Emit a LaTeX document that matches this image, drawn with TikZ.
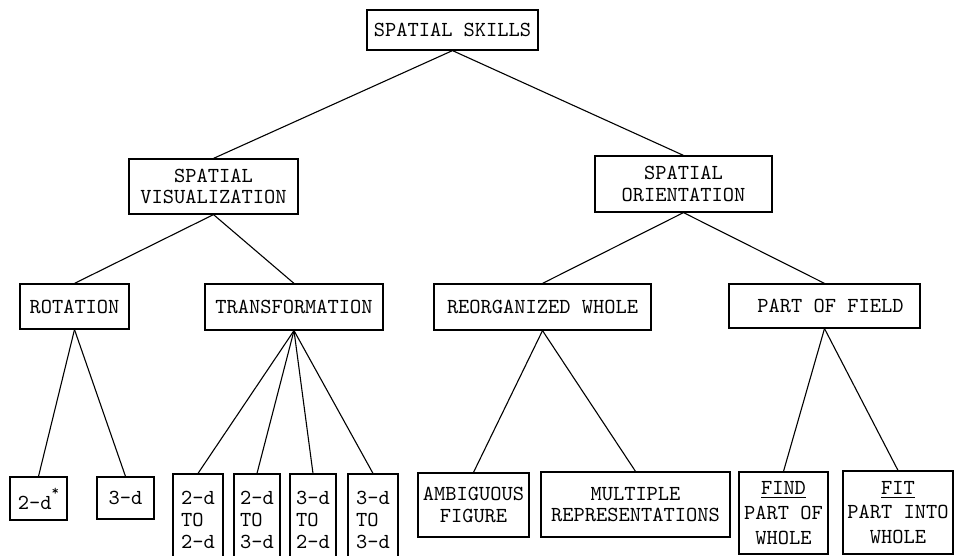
\documentclass[tikz,border=0pt]{standalone}
\usepackage{tikz}
\usepackage{xcolor}

\tikzset{
  box/.style={draw, line width=0.6pt, inner sep=0pt, align=center,
    font=\ttfamily\fontsize{10.7}{10.9}\selectfont},
  boxsize/.style 2 args={minimum width=#1*0.5pt, minimum height=#2*0.5pt},
  link/.style={line width=0.55pt}
}

\begin{document}
\begin{tikzpicture}[x=0.5pt,y=-0.5pt]
        \useasboundingbox (0,0) rectangle (954,556);
        \fill[white] (0,0) rectangle (954,556);
        \clip (0,0) rectangle (954,556);
        % top levels
        \node[box, boxsize={171}{40}] (skills) at (452.5,30) {SPATIAL SKILLS};
        \node[box, boxsize={169}{55}] (visual) at (213.5,186.5) {SPATIAL\\VISUALIZATION};
        \node[box, boxsize={177}{56}] (orient) at (683.5,184) {SPATIAL\\ORIENTATION};
        \node[box, boxsize={109}{45}] (rotation) at (74.5,306.5) {ROTATION};
        \node[box, boxsize={178}{46}] (transform) at (294,307) {TRANSFORMATION};
        \node[box, boxsize={217}{46}] (reorg) at (542.5,307) {REORGANIZED WHOLE};
        \node[box, boxsize={191}{44}] (field) at (824.5,306) {\hspace{6pt}PART OF FIELD};
        % bottom level
        \node[box, boxsize={57}{43}] (rottwo) at (38.5,498.5) {2-d\raisebox{1.5ex}{\scriptsize *}};
        \node[box, boxsize={57}{42}] (rotthree) at (125.5,498) {3-d};
        \node[box, boxsize={50}{92}, align=left] (tftt) at (198,520) {2-d\\TO\\2-d};
        \node[box, boxsize={46}{92}, align=left] (tfth) at (257,520) {2-d\\TO\\3-d};
        \node[box, boxsize={46}{92}, align=left] (thtt) at (313,520) {3-d\\TO\\2-d};
        \node[box, boxsize={50}{92}, align=left] (thth) at (373,520) {3-d\\TO\\3-d};
        \node[box, boxsize={111}{64}] (ambig) at (473.5,505) {AMBIGUOUS\\FIGURE};
        \node[box, boxsize={189}{65}] (multi) at (635.5,504.5) {MULTIPLE\\REPRESENTATIONS};
        \node[box, boxsize={89}{82}, font=\ttfamily\fontsize{10.7}{12.4}\selectfont] (find) at (783.5,513) {\underline{FIND}\\PART OF\\WHOLE};
        \node[box, boxsize={110}{83}, font=\ttfamily\fontsize{10.7}{12.4}\selectfont] (fit) at (898,512.5) {\underline{FIT}\\PART INTO\\WHOLE};
        % connectors
        \draw[link] (skills.south) -- (visual.north);
        \draw[link] (skills.south) -- (orient.north);
        \draw[link] (visual.south) -- (rotation.north);
        \draw[link] (visual.south) -- (transform.north);
        \draw[link] (orient.south) -- (reorg.north);
        \draw[link] (orient.south) -- (field.north);
        \draw[link] (rotation.south) -- (rottwo.north);
        \draw[link] (rotation.south) -- (rotthree.north);
        \foreach \leaf in {tftt,tfth,thtt,thth}
          \draw[link] (transform.south) -- (\leaf.north);
        \draw[link] (reorg.south) -- (ambig.north);
        \draw[link] (reorg.south) -- (multi.north);
        \draw[link] (field.south) -- (find.north);
        \draw[link] (field.south) -- (fit.north);
    \end{tikzpicture}
\end{document}
